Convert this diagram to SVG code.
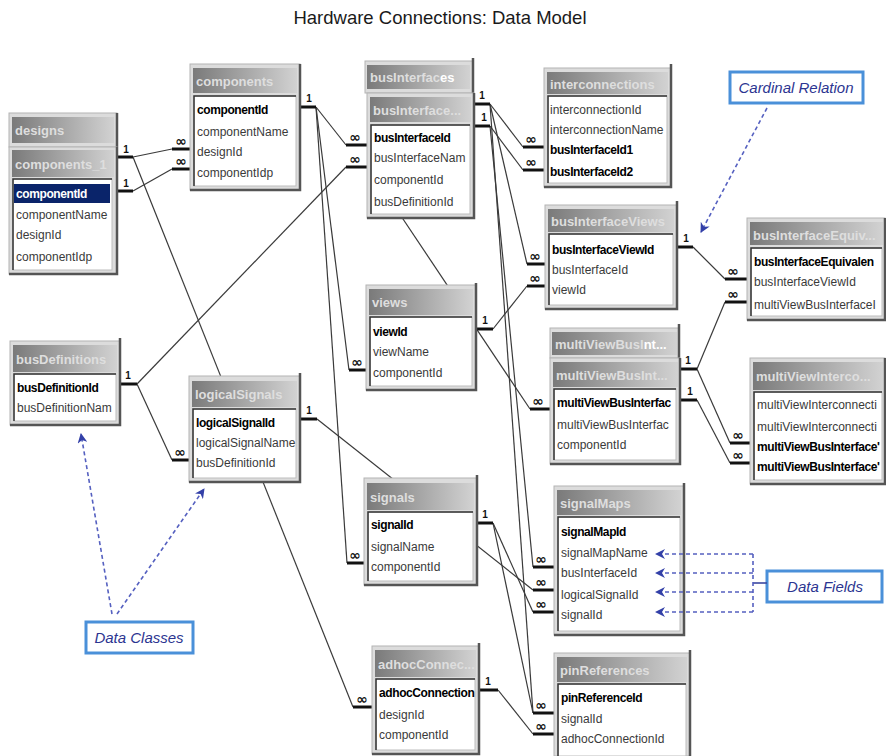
<svg xmlns="http://www.w3.org/2000/svg" width="886" height="756" viewBox="0 0 886 756">
<defs>
<linearGradient id="hg" x1="0" y1="0" x2="1" y2="0">
<stop offset="0" stop-color="#7a7a7a"/>
<stop offset="1" stop-color="#d2d2d2"/>
</linearGradient>
<marker id="ah" viewBox="0 0 10 10" refX="9" refY="5" markerWidth="10" markerHeight="10" orient="auto" markerUnits="userSpaceOnUse">
<path d="M0,0 L10,5 L0,10 L3,5 z" fill="#3340a8"/>
</marker>
<style>
.title{font:18.5px "Liberation Sans",Arial,sans-serif;fill:#1a1a1a}
.fr{fill:#dcdcdc;stroke:#b4b4b4;stroke-width:1}
.sh{fill:none;stroke:#555;stroke-width:2.5}
.hd{fill:url(#hg)}
.ht{font:bold 13px "Liberation Sans",Arial,sans-serif;fill:#dedede}
.hw{fill:#ffffff}
.bd{fill:#fff;stroke:#bdbdbd;stroke-width:1}
.be{fill:none;stroke:#333;stroke-width:1.5}
.f{font:12px "Liberation Sans",Arial,sans-serif;fill:#3a3a3a}
.k{font-weight:bold;fill:#000;letter-spacing:-0.4px}
.sel{fill:#0a246a}
.selt{fill:#fff}
.ln{fill:none;stroke:#3a3a3a;stroke-width:1.2}
.st{stroke:#111;stroke-width:3}
.one{font:bold 10px "Liberation Sans",Arial,sans-serif;fill:#111;text-anchor:middle}
.inf{font:bold 14px "DejaVu Sans",sans-serif;fill:#111;text-anchor:middle}
.cb{fill:#fff;stroke:#4a90d9;stroke-width:3}
.ct{font:italic 15px "Liberation Sans",Arial,sans-serif;fill:#2c3591;text-anchor:middle}
.da{fill:none;stroke:#5560c0;stroke-width:1.6;stroke-dasharray:4 3}
</style>
</defs>
<rect width="886" height="756" fill="#fff"/>
<text class="title" x="440" y="24" text-anchor="middle">Hardware Connections: Data Model</text>

<g id="connectors">
<line class="ln" x1="133" y1="157" x2="172" y2="149"/>
<line class="ln" x1="133" y1="191" x2="172" y2="169"/>
<line class="ln" x1="133" y1="157" x2="353" y2="707"/>
<line class="ln" x1="316" y1="107" x2="346" y2="145"/>
<line class="ln" x1="137" y1="384" x2="346" y2="167"/>
<line class="ln" x1="316" y1="107" x2="349" y2="370"/>
<line class="ln" x1="316" y1="107" x2="347" y2="563"/>
<line class="ln" x1="490" y1="104" x2="523" y2="147"/>
<line class="ln" x1="490" y1="126" x2="523" y2="170"/>
<line class="ln" x1="490" y1="104" x2="527" y2="264"/>
<line class="ln" x1="493" y1="329" x2="527" y2="286"/>
<line class="ln" x1="693" y1="247" x2="725" y2="279"/>
<line class="ln" x1="697" y1="369" x2="725" y2="302"/>
<line class="ln" x1="697" y1="369" x2="730" y2="443"/>
<line class="ln" x1="697" y1="400" x2="730" y2="463"/>
<line class="ln" x1="397" y1="210" x2="530" y2="409"/>
<line class="ln" x1="137" y1="384" x2="172" y2="460"/>
<line class="ln" x1="317" y1="419" x2="533" y2="590"/>
<line class="ln" x1="490" y1="126" x2="533" y2="567"/>
<line class="ln" x1="490" y1="104" x2="533" y2="713"/>
<line class="ln" x1="493" y1="523" x2="533" y2="612"/>
<line class="ln" x1="493" y1="523" x2="533" y2="713"/>
<line class="ln" x1="498" y1="690" x2="533" y2="734"/>

<line class="st" x1="117" y1="157" x2="133" y2="157"/><text class="one" x="126" y="153">1</text>
<line class="st" x1="117" y1="191" x2="133" y2="191"/><text class="one" x="126" y="187">1</text>
<line class="st" x1="172" y1="149" x2="190" y2="149"/><text class="inf" x="181" y="146">∞</text>
<line class="st" x1="172" y1="169" x2="190" y2="169"/><text class="inf" x="181" y="166">∞</text>
<line class="st" x1="300" y1="107" x2="316" y2="107"/><text class="one" x="309" y="102">1</text>
<line class="st" x1="346" y1="145" x2="367" y2="145"/><text class="inf" x="355" y="142">∞</text>
<line class="st" x1="346" y1="167" x2="367" y2="167"/><text class="inf" x="355" y="164">∞</text>
<line class="st" x1="474" y1="104" x2="490" y2="104"/><text class="one" x="482" y="99">1</text>
<line class="st" x1="474" y1="126" x2="490" y2="126"/><text class="one" x="484" y="121">1</text>
<line class="st" x1="523" y1="147" x2="544" y2="147"/><text class="inf" x="531" y="144">∞</text>
<line class="st" x1="523" y1="170" x2="544" y2="170"/><text class="inf" x="531" y="167">∞</text>
<line class="st" x1="527" y1="264" x2="545" y2="264"/><text class="inf" x="535" y="261">∞</text>
<line class="st" x1="527" y1="286" x2="545" y2="286"/><text class="inf" x="535" y="283">∞</text>
<line class="st" x1="677" y1="247" x2="693" y2="247"/><text class="one" x="686" y="242">1</text>
<line class="st" x1="725" y1="279" x2="747" y2="279"/><text class="inf" x="733" y="276">∞</text>
<line class="st" x1="725" y1="302" x2="747" y2="302"/><text class="inf" x="733" y="299">∞</text>
<line class="st" x1="349" y1="370" x2="366" y2="370"/><text class="inf" x="357" y="367">∞</text>
<line class="st" x1="476" y1="329" x2="493" y2="329"/><text class="one" x="485" y="324">1</text>
<line class="st" x1="530" y1="409" x2="550" y2="409"/><text class="inf" x="538" y="406">∞</text>
<line class="st" x1="680" y1="369" x2="697" y2="369"/><text class="one" x="688" y="364">1</text>
<line class="st" x1="680" y1="400" x2="697" y2="400"/><text class="one" x="690" y="395">1</text>
<line class="st" x1="730" y1="443" x2="750" y2="443"/><text class="inf" x="738" y="440">∞</text>
<line class="st" x1="730" y1="463" x2="750" y2="463"/><text class="inf" x="738" y="460">∞</text>
<line class="st" x1="120" y1="384" x2="137" y2="384"/><text class="one" x="128" y="379">1</text>
<line class="st" x1="172" y1="460" x2="189" y2="460"/><text class="inf" x="180" y="457">∞</text>
<line class="st" x1="300" y1="419" x2="317" y2="419"/><text class="one" x="309" y="414">1</text>
<line class="st" x1="347" y1="563" x2="364" y2="563"/><text class="inf" x="355" y="560">∞</text>
<line class="st" x1="477" y1="523" x2="493" y2="523"/><text class="one" x="485" y="518">1</text>
<line class="st" x1="533" y1="567" x2="554" y2="567"/><text class="inf" x="541" y="564">∞</text>
<line class="st" x1="533" y1="590" x2="554" y2="590"/><text class="inf" x="541" y="587">∞</text>
<line class="st" x1="533" y1="612" x2="554" y2="612"/><text class="inf" x="541" y="609">∞</text>
<line class="st" x1="353" y1="707" x2="372" y2="707"/><text class="inf" x="362" y="704">∞</text>
<line class="st" x1="479" y1="690" x2="498" y2="690"/><text class="one" x="488" y="685">1</text>
<line class="st" x1="533" y1="713" x2="554" y2="713"/><text class="inf" x="541" y="710">∞</text>
<line class="st" x1="533" y1="734" x2="554" y2="734"/><text class="inf" x="541" y="731">∞</text>
</g>

<g id="t-designs">
<rect class="fr" x="9" y="113" width="108" height="34"/>
<path class="sh" d="M117,113 V147"/>
<rect class="hd" x="12" y="117" width="102" height="26"/>
<text class="ht" x="15" y="135">designs</text>
</g>

<g id="t-components_1">
<rect class="fr" x="9" y="147" width="108" height="127"/>
<path class="sh" d="M117,147 V274 H9"/>
<rect class="hd" x="12" y="150" width="102" height="27"/>
<text class="ht" x="15" y="169">components_1</text>
<rect class="bd" x="13" y="179" width="99" height="91"/>
<path class="be" d="M13,270 V179 H112"/>
<rect class="sel" x="14" y="184" width="96" height="19"/>
<text class="f k selt" x="16" y="198">componentId</text>
<text class="f" x="16" y="219">componentName</text>
<text class="f" x="16" y="239">designId</text>
<text class="f" x="16" y="261">componentIdp</text>
</g>

<g id="t-components">
<rect class="fr" x="190" y="64" width="110" height="126"/>
<path class="sh" d="M300,64 V190 H190"/>
<rect class="hd" x="193" y="68" width="104" height="25"/>
<text class="ht" x="196" y="86">components</text>
<rect class="bd" x="194" y="96" width="102" height="90"/>
<path class="be" d="M194,186 V96 H296"/>
<text class="f k" x="197" y="114">componentId</text>
<text class="f" x="197" y="136">componentName</text>
<text class="f" x="197" y="156">designId</text>
<text class="f" x="197" y="177">componentIdp</text>
</g>

<g id="t-busInterfaces-back">
<rect class="fr" x="365" y="61" width="108" height="32"/>
<path class="sh" d="M473,58 V93"/>
<rect class="hd" x="367" y="65" width="103" height="24"/>
<text class="ht" x="370" y="82">busInterfac<tspan class="hw">es</tspan></text>
</g>

<g id="t-busInterface">
<rect class="fr" x="367" y="93" width="107" height="125"/>
<path class="sh" d="M474,93 V218 H367"/>
<rect class="hd" x="370" y="97" width="101" height="25"/>
<text class="ht" x="373" y="115">busInterface...</text>
<rect class="bd" x="371" y="125" width="99" height="89"/>
<path class="be" d="M371,214 V125 H470"/>
<text class="f k" x="374" y="142">busInterfaceId</text>
<text class="f" x="374" y="162">busInterfaceNam</text>
<text class="f" x="374" y="184">componentId</text>
<text class="f" x="374" y="206">busDefinitionId</text>
</g>

<g id="t-interconnections">
<rect class="fr" x="544" y="68" width="127" height="119"/>
<path class="sh" d="M671,64 V187 H544"/>
<rect class="hd" x="547" y="72" width="121" height="22"/>
<text class="ht" x="550" y="89">interconnections</text>
<rect class="bd" x="548" y="96" width="119" height="87"/>
<path class="be" d="M548,183 V96 H667"/>
<text class="f" x="550" y="114">interconnectionId</text>
<text class="f" x="550" y="134">interconnectionName</text>
<text class="f k" x="550" y="154">busInterfaceId1</text>
<text class="f k" x="550" y="176">busInterfaceId2</text>
</g>

<g id="t-busInterfaceViews">
<rect class="fr" x="545" y="205" width="132" height="104"/>
<path class="sh" d="M677,201 V309 H545"/>
<rect class="hd" x="548" y="209" width="126" height="23"/>
<text class="ht" x="551" y="226">busInterfaceViews</text>
<rect class="bd" x="549" y="234" width="124" height="71"/>
<path class="be" d="M549,305 V234 H673"/>
<text class="f k" x="552" y="254">busInterfaceViewId</text>
<text class="f" x="552" y="274">busInterfaceId</text>
<text class="f" x="552" y="294">viewId</text>
</g>

<g id="t-busInterfaceEquiv">
<rect class="fr" x="747" y="218" width="138" height="102"/>
<path class="sh" d="M885,218 V320 H747"/>
<rect class="hd" x="750" y="222" width="133" height="23"/>
<text class="ht" x="753" y="240">busInterfaceEquiv...</text>
<rect class="bd" x="751" y="248" width="131" height="68"/>
<path class="be" d="M751,316 V248 H882"/>
<text class="f k" x="754" y="266">busInterfaceEquivalen</text>
<text class="f" x="754" y="286">busInterfaceViewId</text>
<text class="f" x="754" y="309">multiViewBusInterfaceI</text>
</g>

<g id="t-busDefinitions">
<rect class="fr" x="10" y="341" width="110" height="84"/>
<path class="sh" d="M120,338 V425 H10"/>
<rect class="hd" x="13" y="345" width="104" height="27"/>
<text class="ht" x="16" y="364">busDefinitions</text>
<rect class="bd" x="14" y="374" width="102" height="47"/>
<path class="be" d="M14,421 V374 H116"/>
<text class="f k" x="17" y="392">busDefinitionId</text>
<text class="f" x="17" y="412">busDefinitionNam</text>
</g>

<g id="t-logicalSignals">
<rect class="fr" x="189" y="376" width="111" height="106"/>
<path class="sh" d="M300,373 V482 H189"/>
<rect class="hd" x="192" y="381" width="105" height="26"/>
<text class="ht" x="195" y="399">logicalSignals</text>
<rect class="bd" x="193" y="409" width="103" height="69"/>
<path class="be" d="M193,478 V409 H296"/>
<text class="f k" x="196" y="427">logicalSignalId</text>
<text class="f" x="196" y="447">logicalSignalName</text>
<text class="f" x="196" y="467">busDefinitionId</text>
</g>

<g id="t-views">
<rect class="fr" x="366" y="285" width="110" height="105"/>
<path class="sh" d="M476,283 V390 H366"/>
<rect class="hd" x="369" y="289" width="104" height="26"/>
<text class="ht" x="372" y="307">views</text>
<rect class="bd" x="370" y="317" width="102" height="69"/>
<path class="be" d="M370,386 V317 H472"/>
<text class="f k" x="373" y="336">viewId</text>
<text class="f" x="373" y="356">viewName</text>
<text class="f" x="373" y="377">componentId</text>
</g>

<g id="t-multiViewBusInt-back">
<rect class="fr" x="550" y="328" width="129" height="30"/>
<path class="sh" d="M679,324 V358"/>
<rect class="hd" x="552" y="332" width="125" height="23"/>
<text class="ht" x="555" y="349">multiViewBusI<tspan class="hw">nt...</tspan></text>
</g>

<g id="t-multiViewBusInt">
<rect class="fr" x="550" y="358" width="130" height="106"/>
<path class="sh" d="M680,358 V464 H550"/>
<rect class="hd" x="553" y="362" width="125" height="25"/>
<text class="ht" x="556" y="380">multiViewBusInt...</text>
<rect class="bd" x="554" y="389" width="122" height="71"/>
<path class="be" d="M554,460 V389 H676"/>
<text class="f k" x="557" y="407">multiViewBusInterfac</text>
<text class="f" x="557" y="429">multiViewBusInterfac</text>
<text class="f" x="557" y="449">componentId</text>
</g>

<g id="t-multiViewInterco">
<rect class="fr" x="750" y="358" width="135" height="126"/>
<path class="sh" d="M885,358 V484 H750"/>
<rect class="hd" x="753" y="362" width="130" height="28"/>
<text class="ht" x="756" y="381">multiViewInterco...</text>
<rect class="bd" x="754" y="392" width="128" height="88"/>
<path class="be" d="M754,480 V392 H882"/>
<text class="f" x="757" y="409">multiViewInterconnecti</text>
<text class="f" x="757" y="431">multiViewInterconnecti</text>
<text class="f k" x="757" y="451">multiViewBusInterface'</text>
<text class="f k" x="757" y="471">multiViewBusInterface'</text>
</g>

<g id="t-signals">
<rect class="fr" x="364" y="478" width="113" height="107"/>
<path class="sh" d="M477,475 V585 H364"/>
<rect class="hd" x="367" y="483" width="107" height="27"/>
<text class="ht" x="370" y="502">signals</text>
<rect class="bd" x="368" y="512" width="105" height="69"/>
<path class="be" d="M368,581 V512 H473"/>
<text class="f k" x="371" y="529">signalId</text>
<text class="f" x="371" y="551">signalName</text>
<text class="f" x="371" y="571">componentId</text>
</g>

<g id="t-signalMaps">
<rect class="fr" x="554" y="486" width="130" height="149"/>
<path class="sh" d="M684,483 V635 H554"/>
<rect class="hd" x="557" y="490" width="124" height="25"/>
<text class="ht" x="560" y="508">signalMaps</text>
<rect class="bd" x="558" y="517" width="122" height="114"/>
<path class="be" d="M558,631 V517 H680"/>
<text class="f k" x="561" y="536">signalMapId</text>
<text class="f" x="561" y="557">signalMapName</text>
<text class="f" x="561" y="577">busInterfaceId</text>
<text class="f" x="561" y="599">logicalSignalId</text>
<text class="f" x="561" y="619">signalId</text>
</g>

<g id="t-adhocConnections">
<rect class="fr" x="372" y="646" width="107" height="108"/>
<path class="sh" d="M479,643 V754 H372"/>
<rect class="hd" x="375" y="650" width="101" height="27"/>
<text class="ht" x="378" y="669">adhocConnec...</text>
<rect class="bd" x="376" y="679" width="99" height="71"/>
<path class="be" d="M376,750 V679 H475"/>
<text class="f k" x="379" y="697">adhocConnection</text>
<text class="f" x="379" y="719">designId</text>
<text class="f" x="379" y="739">componentId</text>
</g>

<g id="t-pinReferences">
<rect class="fr" x="554" y="653" width="136" height="103"/>
<path class="sh" d="M690,650 V756"/>
<rect class="hd" x="557" y="657" width="130" height="25"/>
<text class="ht" x="560" y="675">pinReferences</text>
<rect class="bd" x="558" y="684" width="128" height="72"/>
<path class="be" d="M558,756 V684 H686"/>
<text class="f k" x="561" y="702">pinReferenceId</text>
<text class="f" x="561" y="723">signalId</text>
<text class="f" x="561" y="743">adhocConnectionId</text>
</g>

<g id="callout-cardinal">
<rect class="cb" x="730" y="72" width="133" height="31"/>
<text class="ct" x="796" y="93">Cardinal Relation</text>
<line class="da" x1="767" y1="108" x2="701" y2="232" marker-end="url(#ah)"/>
</g>

<g id="callout-classes">
<rect class="cb" x="86" y="622" width="107" height="31"/>
<text class="ct" x="139" y="643">Data Classes</text>
<line class="da" x1="112" y1="614" x2="81" y2="434" marker-end="url(#ah)"/>
<line class="da" x1="117" y1="614" x2="204" y2="489" marker-end="url(#ah)"/>
</g>

<g id="callout-fields">
<rect class="cb" x="767" y="571" width="115" height="31"/>
<text class="ct" x="825" y="592">Data Fields</text>
<line x1="753" y1="583" x2="767" y2="583" stroke="#3a47a0" stroke-width="1.6"/>
<line class="da" x1="753" y1="554" x2="753" y2="612"/>
<line class="da" x1="753" y1="554" x2="656" y2="554" marker-end="url(#ah)"/>
<line class="da" x1="753" y1="573" x2="656" y2="573" marker-end="url(#ah)"/>
<line class="da" x1="753" y1="592" x2="656" y2="592" marker-end="url(#ah)"/>
<line class="da" x1="753" y1="612" x2="656" y2="612" marker-end="url(#ah)"/>
</g>
</svg>
